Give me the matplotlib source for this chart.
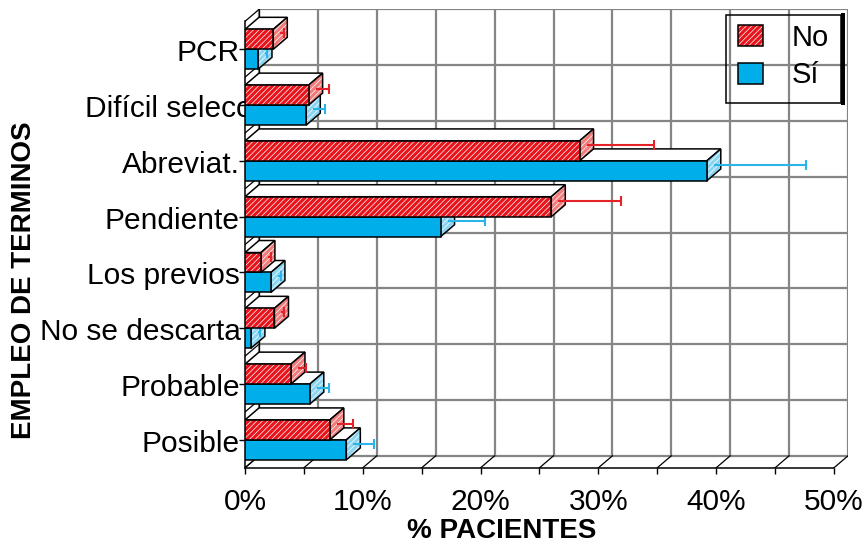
import numpy as np
import matplotlib
matplotlib.use("Agg")
import matplotlib.pyplot as plt
import matplotlib.transforms as mtransforms
from matplotlib.patches import Polygon, Rectangle, Patch
from matplotlib.ticker import MultipleLocator
from matplotlib.legend_handler import HandlerTuple

plt.rcParams["font.family"] = ["Liberation Sans", "DejaVu Sans"]
plt.rcParams["hatch.linewidth"] = 0.5

# ---- data -------------------------------------------------------------
categories = ["Posible", "Probable", "No se descarta", "Los previos",
              "Pendiente", "Abreviat.", "Difícil selecc", "PCR"]
no_pct = [7.2, 3.9, 2.5, 1.35, 26.0, 28.4, 5.4, 2.4]
si_pct = [8.6, 5.5, 0.5, 2.2, 16.6, 39.2, 5.2, 1.1]
no_err = [1.4, 0.7, 0.25, 0.3, 5.3, 5.7, 1.15, 0.3]
si_err = [1.75, 1.0, 0.2, 0.3, 3.2, 7.8, 1.0, 0.2]
series = ["No", "Sí"]
x_major = [0, 10, 20, 30, 40, 50]
x_labels = ["0%", "10%", "20%", "30%", "40%", "50%"]

# ---- style ------------------------------------------------------------
RED, RED_SIDE = "#E8141C", "#F07C7C"
BLUE, BLUE_SIDE = "#00AEEA", "#8CD5F2"
RED_ERR, BLUE_ERR = "#E42228", "#2AB4E8"
GRID = "#858585"
EDGE = 1.1
HATCH = "//////"

fig = plt.figure(figsize=(8.64, 5.46), dpi=100)
ax = fig.add_axes([245 / 864, 78.2 / 546, 603 / 864, 458.4 / 546])
ax.patch.set_visible(False)

n = len(categories)
xmax = 50
DX, DY = 1.19, 0.215          # depth of the 3-D box (x in %, y in category units)
BAR_H = 0.358
y_lo, y_hi = -0.5, n - 0.5
ax.set_xlim(0, xmax + DX)
ax.set_ylim(y_lo, y_hi + DY)

# ---- walls ------------------------------------------------------------
ax.add_patch(Rectangle((DX, y_lo + DY), xmax, n, fc="white", ec="none", zorder=0.5))
ax.add_patch(Polygon([(0, y_lo), (DX, y_lo + DY), (DX, y_hi + DY), (0, y_hi)],
                     closed=True, fc="white", ec="none", zorder=0.6))
ax.add_patch(Polygon([(0, y_lo), (xmax, y_lo), (xmax + DX, y_lo + DY), (DX, y_lo + DY)],
                     closed=True, fc="white", ec="none", zorder=0.6))
for xv in np.arange(0, xmax + 0.1, 5):
    ax.plot([xv + DX] * 2, [y_lo + DY, y_hi + DY], color=GRID, lw=1.6, zorder=0.7)
    ax.plot([xv, xv + DX], [y_lo, y_lo + DY], color="black", lw=0.9, zorder=0.8)
for k in range(n + 1):
    yb = k - 0.5
    ax.plot([DX, xmax + DX], [yb + DY, yb + DY], color=GRID, lw=1.6, zorder=0.7)
    ax.plot([0, DX], [yb, yb + DY], color="black", lw=0.9, zorder=0.8)
ax.plot([DX, DX], [y_lo + DY, y_hi + DY], color="black", lw=0.9, zorder=0.8)


# ---- 3-D bars ---------------------------------------------------------
def box(y0, value, front, side, hatched_front, z):
    top = [(0, y0 + BAR_H), (value, y0 + BAR_H),
           (value + DX, y0 + BAR_H + DY), (DX, y0 + BAR_H + DY)]
    ax.add_patch(Polygon(top, closed=True, fc="white", ec="black", lw=EDGE, zorder=z))
    sd = [(value, y0), (value + DX, y0 + DY), (value + DX, y0 + BAR_H + DY), (value, y0 + BAR_H)]
    ax.add_patch(Polygon(sd, closed=True, fc=side, ec="none", zorder=z))
    ax.add_patch(Polygon(sd, closed=True, fill=False, ec="white", lw=0, hatch=HATCH, zorder=z))
    ax.add_patch(Polygon(sd, closed=True, fill=False, ec="black", lw=EDGE, zorder=z))
    ax.barh(y0, value, height=BAR_H, align="edge", color=front, edgecolor="none", zorder=z)
    if hatched_front:
        ax.barh(y0, value, height=BAR_H, align="edge", fill=False, edgecolor="white",
                lw=0, hatch=HATCH, zorder=z)
    ax.barh(y0, value, height=BAR_H, align="edge", fill=False, edgecolor="black",
            lw=EDGE, zorder=z)


def err(yc, value, e, color, z):
    x0 = value + DX / 2
    yy = yc + DY / 2
    ax.hlines(yy, x0, x0 + e, colors=color, lw=1.5, zorder=z)
    ax.plot([x0 + e], [yy], marker="|", ms=6.5, mew=1.5, color=color, zorder=z)


for i in range(n):
    z = 3 + 0.01 * i
    box(i - BAR_H, si_pct[i], BLUE, BLUE_SIDE, False, z)
    err(i - BAR_H / 2, si_pct[i], si_err[i], BLUE_ERR, z)
    box(i, no_pct[i], RED, RED_SIDE, True, z)
    err(i + BAR_H / 2, no_pct[i], no_err[i], RED_ERR, z)

# ---- axes -------------------------------------------------------------
for s in ("top", "right"):
    ax.spines[s].set_visible(False)
ax.spines["left"].set_bounds(y_lo, y_hi)
ax.spines["bottom"].set_bounds(0, xmax)
for s in ("left", "bottom"):
    ax.spines[s].set_linewidth(EDGE)

ax.set_xticks(x_major)
ax.set_xticklabels(x_labels)
ax.xaxis.set_minor_locator(MultipleLocator(5))
ax.set_yticks(range(n))
ax.set_yticklabels([])
ax.tick_params(axis="both", which="both", direction="out", length=4.3, width=1.0)
ax.tick_params(axis="x", labelsize=21.5, pad=10)

# category names; the two long ones start from the left margin
left_start = {"No se descarta": -0.340, "Difícil selecc": -0.265}
ytr = mtransforms.offset_copy(ax.get_yaxis_transform(), fig=fig, y=-4, units="dots")
for i, name in enumerate(categories):
    if name in left_start:
        ax.text(left_start[name], i, name, transform=ytr, ha="left", va="center",
                fontsize=21.5, zorder=2, clip_on=False)
    else:
        ax.text(-0.0083, i, name, transform=ytr, ha="right", va="center",
                fontsize=21.5, zorder=2, clip_on=False)

ax.set_xlabel("% PACIENTES", fontsize=20, fontweight="bold", va="center")
ax.xaxis.set_label_coords(0.426, -0.138)
ax.set_ylabel("EMPLEO DE TERMINOS", fontsize=20, fontweight="bold", va="center", ha="center")
ax.yaxis.set_label_coords(-0.366, 0.41)

# ---- legend -----------------------------------------------------------
red_handle = (Patch(fc=RED, ec="none"),
              Patch(fill=False, ec="white", lw=0, hatch=HATCH),
              Patch(fill=False, ec="black", lw=EDGE))
blue_handle = Patch(fc=BLUE, ec="black", lw=EDGE)
ax.legend([red_handle, blue_handle], series,
          handler_map={tuple: HandlerTuple(ndivide=1, pad=0)},
          loc="center", bbox_to_anchor=(783.5 / 864, 1 - 56.5 / 546),
          bbox_transform=fig.transFigure, frameon=False, fontsize=21,
          handlelength=0.86, handleheight=0.75, handletextpad=1.0,
          labelspacing=0.34, borderpad=0)
fig.add_artist(Rectangle((726 / 864, 1 - 103 / 546), 115 / 864, 88 / 546,
                         transform=fig.transFigure, fill=False, ec="black", lw=EDGE))
fig.add_artist(Rectangle((841 / 864, 1 - 105 / 546), 4 / 864, 92 / 546,
                         transform=fig.transFigure, fc="black", ec="none"))

fig.savefig("out.png", dpi=100)
